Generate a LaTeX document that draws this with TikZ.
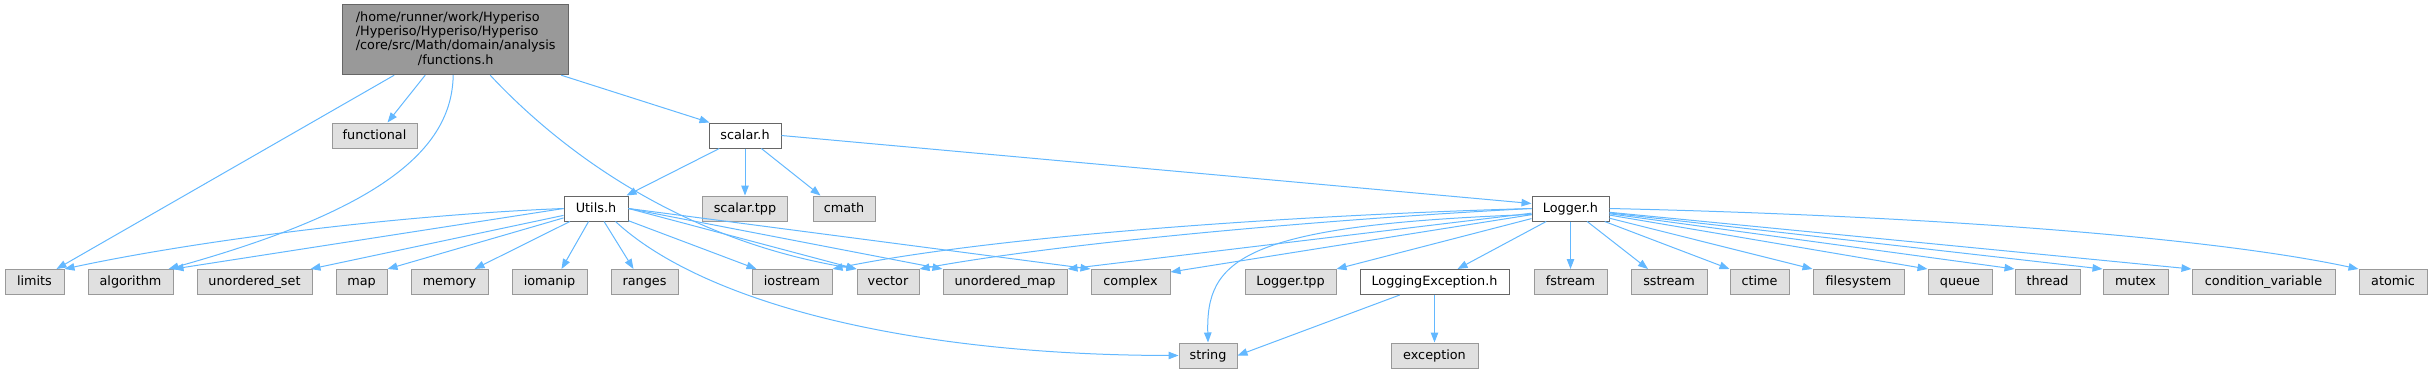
\documentclass[tikz,border=0pt]{standalone}
\usepackage{fontspec}
\setmainfont{DejaVu Sans}
\usetikzlibrary{arrows.meta,calc}
\definecolor{edgec}{RGB}{99,184,255}
\definecolor{leafc}{RGB}{224,224,224}
\definecolor{leafd}{RGB}{153,153,153}
\definecolor{hdrd}{RGB}{102,102,102}
\definecolor{topc}{RGB}{153,153,153}

\begin{document}
\begin{tikzpicture}[x=1pt,y=-1pt,>={Triangle[length=10pt,width=7.5pt]},
  every node/.style={font=\fontsize{12.8}{14.3}\selectfont,inner sep=0pt},
  leaf/.style={draw=leafd,fill=leafc,line width=1pt,minimum height=25pt,text height=9.6pt,text depth=2.6pt},
  hdr/.style={leaf,draw=hdrd,fill=white},
  dep/.style={draw=edgec,line width=1pt,->}]
\useasboundingbox (0,0) rectangle (2432,373);

%================= the file itself =================
\node[draw=hdrd,fill=topc,line width=1pt,minimum width=226pt,minimum height=70pt] (fn) at (455.7,39.7)
  {\begin{tabular}{@{}l@{}}/home/runner/work/Hyperiso\\/Hyperiso/Hyperiso/Hyperiso\\
   /core/src/Math/domain/analysis\\\multicolumn{1}{@{}c@{}}{/functions.h}\end{tabular}};

%================= local headers =================
\node[hdr,minimum width=72pt] (scalar) at (745,135.5) {scalar.h};
\node[hdr,minimum width=64pt] (utils) at (596,208.5) {Utils.h};
\node[hdr,minimum width=77pt] (logger) at (1570.5,208.5) {Logger.h};
\node[hdr,minimum width=149pt] (logexc) at (1434.5,282) {LoggingException.h};

%================= system headers =================
\node[leaf,minimum width=85pt] (functional) at (374.5,135.5) {functional};
\node[leaf,minimum width=85pt] (scalartpp) at (745,208.5) {scalar.tpp};
\node[leaf,minimum width=62pt] (cmath) at (844,208.5) {cmath};
\node[leaf,minimum width=58pt] (string) at (1208,355.5) {string};
\node[leaf,minimum width=87pt] (exception) at (1434.5,355.5) {exception};

% bottom row
\foreach \nm/\lab/\cx/\w in {limits/limits/34.5/59, algorithm/algorithm/130.5/85,
    uset/unordered\_set/254.5/115, map/map/361.5/51, memory/memory/449.5/77,
    iomanip/iomanip/549.5/75, ranges/ranges/644.5/67, iostream/iostream/792/80,
    vector/vector/888/62, umap/unordered\_map/1005/124, complex/complex/1130.5/79,
    loggertpp/Logger.tpp/1290.5/91, fstream/fstream/1570.5/73, sstream/sstream/1669/76,
    ctime/ctime/1759.5/59, filesystem/filesystem/1858.5/91, queue/queue/1960/64,
    thread/thread/2047.5/65, mutex/mutex/2135.5/65, condvar/condition\_variable/2263.5/143,
    atomic/atomic/2393/68}{
  \node[leaf,minimum width=\w pt] (\nm) at (\cx,282) {\lab};}

%================= functions.h =================
\draw[dep] ($(fn.south west)+(52,0)$) -- ($(limits.north east)+(-8,0)$);
\draw[dep] ($(fn.south west)+(83,0)$) -- ($(functional.north)+(13,0)$);
\draw[dep] ($(fn.south west)+(111,0)$) .. controls (452,150) and (380,210) .. ($(algorithm.north east)+(-5,0)$);
\draw[dep] ($(fn.south west)+(148,0)$) .. controls (560,150) and (680,240) .. (vector.north west);
\draw[dep] ($(fn.south east)+(-8,0)$) -- ($(scalar.north west)+(1,0)$);

%================= scalar.h =================
\draw[dep] (scalar) -- ($(utils.north east)+(-2,0)$);
\draw[dep] (scalar) -- (scalartpp);
\draw[dep] (scalar) -- ($(cmath.north west)+(8,0)$);
\draw[dep] (scalar.east) -- ($(logger.west)+(0,-5)$);

%================= Utils.h =================
\draw[dep] (utils.west) .. controls (400,215) and (200,240) .. (limits.north east);
\draw[dep] (utils.west) -- (algorithm.north east);
\draw[dep] (utils) -- ($(uset.north east)+(-2,0)$);
\draw[dep] (utils) -- (map.north east);
\draw[dep] (utils) -- ($(memory.north)+(25,0)$);
\draw[dep] (utils) -- ($(iomanip.north)+(12,0)$);
\draw[dep] (utils) -- ($(ranges.north)+(-11,0)$);
\draw[dep] (utils) -- ($(iostream.north west)+(5,0)$);
\foreach \t in {vector,umap,complex}{
  \draw[dep] (utils.east) -- (\t.north west);}
\draw[dep] ($(utils.south east)+(-13,0)$) .. controls (700,300) and (900,355) .. (string.west);

%================= Logger.h =================
\draw[dep] (logger.west) .. controls (1300,215) and (1000,235) .. (iostream.north east);
\draw[dep] (logger.west) .. controls (1350,218) and (1080,240) .. (vector.north east);
\draw[dep] (logger) -- (umap.north east);
\draw[dep] (logger) -- ($(complex.north east)+(0,3)$);
\draw[dep] ($(logger.west)+(0,6)$) .. controls (1240,225) and (1206,260) .. (string.north);
\draw[dep] (logger) -- (loggertpp.north east);
\draw[dep] (logger) -- ($(logexc.north)+(23,0)$);
\draw[dep] (logger) -- (fstream);
\draw[dep] (logger) -- ($(sstream.north)+(-21,0)$);
\foreach \t in {ctime,filesystem,queue,thread,mutex,condvar}{
  \draw[dep] (logger) -- (\t.north west);}
\draw[dep] (logger.east) .. controls (1900,215) and (2200,235) .. (atomic.north west);

%================= LoggingException.h =================
\draw[dep] (logexc) -- (string.east);
\draw[dep] (logexc) -- (exception);
\end{tikzpicture}
\end{document}
